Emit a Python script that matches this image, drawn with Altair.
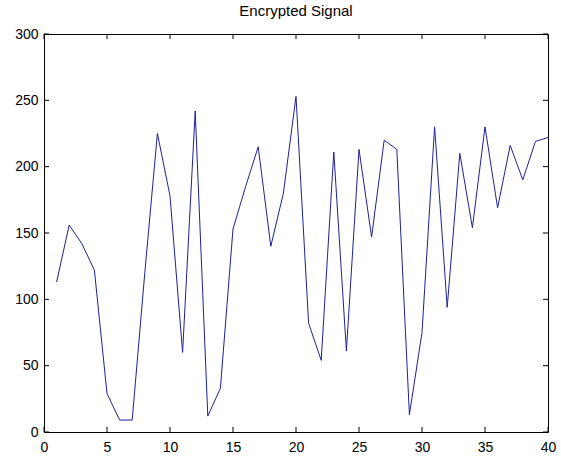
import altair as alt
import pandas as pd

sample = list(range(1, 41))
signal = [113, 156, 142, 122, 29, 9, 9, 120, 225, 178,
          60, 242, 12, 33, 153, 185, 215, 140, 180, 253,
          82, 54, 211, 61, 213, 147, 220, 213, 13, 75,
          230, 94, 210, 154, 230, 169, 216, 190, 219, 222]
x_ticks = [0, 5, 10, 15, 20, 25, 30, 35, 40]
y_ticks = [0, 50, 100, 150, 200, 250, 300]

W, H = 504, 398
FONT = "Liberation Sans"

df = pd.DataFrame({"n": sample, "v": signal})
dx = pd.DataFrame({"n": x_ticks})
dy = pd.DataFrame({"v": y_ticks})

xs = alt.Scale(domain=[0, 40], nice=False)
ys = alt.Scale(domain=[0, 300], nice=False)

line = alt.Chart(df).mark_line(color="#1f1f9a", strokeWidth=1).encode(
    x=alt.X("n:Q", scale=xs, title=None,
            axis=alt.Axis(values=x_ticks, ticks=False, tickSize=0, domain=False, grid=False,
                          labelFont=FONT, labelFontSize=14, labelColor="black",
                          labelPadding=8, labelFlush=False)),
    y=alt.Y("v:Q", scale=ys, title=None,
            axis=alt.Axis(values=y_ticks, ticks=False, tickSize=0, domain=False, grid=False,
                          labelFont=FONT, labelFontSize=14, labelColor="black",
                          labelPadding=6, labelFlush=False)),
)

tick_len = 5
bottom = alt.Chart(dx).mark_rule(color="black").encode(
    x=alt.X("n:Q", scale=xs), y=alt.value(H), y2=alt.value(H - tick_len))
top = alt.Chart(dx).mark_rule(color="black").encode(
    x=alt.X("n:Q", scale=xs), y=alt.value(0), y2=alt.value(tick_len))
left = alt.Chart(dy).mark_rule(color="black").encode(
    y=alt.Y("v:Q", scale=ys), x=alt.value(0), x2=alt.value(tick_len))
right = alt.Chart(dy).mark_rule(color="black").encode(
    y=alt.Y("v:Q", scale=ys), x=alt.value(W), x2=alt.value(W - tick_len))

chart = alt.layer(line, bottom, top, left, right).properties(
    width=W, height=H,
    title=alt.TitleParams("Encrypted Signal", font=FONT, fontSize=15,
                          fontWeight="normal", color="black", offset=8),
    autosize=alt.AutoSizeParams(type="none"),
    padding={"left": 44, "top": 34, "right": 13, "bottom": 25},
    background="white",
).configure_view(stroke="black", strokeWidth=1)

chart.save("out.html", embed_options={"renderer": "svg", "actions": False})
